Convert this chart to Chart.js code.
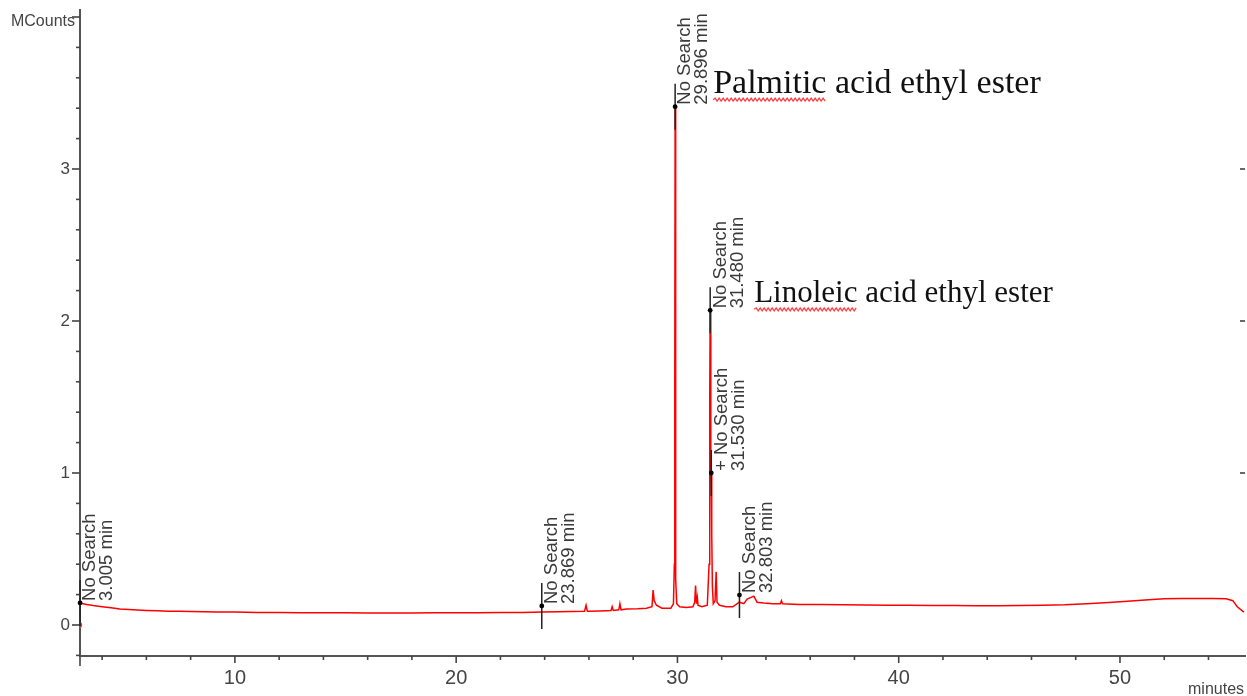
<!DOCTYPE html>
<html>
<head>
<meta charset="utf-8">
<script src="https://cdn.jsdelivr.net/npm/chart.js@4.4.1/dist/chart.umd.min.js"></script>
<style>
  html, body { margin: 0; padding: 0; background: #fff; }
  #wrap { width: 1247px; height: 696px; position: relative; }
</style>
</head>
<body>
<div id="wrap"><canvas id="chrom"></canvas></div>
<script>
// retention time (min) and signal (MCounts)
const times = [
  3.005, 3.1, 3.3, 3.6, 4.0, 4.4, 4.8, 5.2, 5.6, 6.0, 6.5, 7.0, 7.5, 8.0, 8.6, 9.2,
  10.0, 11.0, 12.0, 13.0, 14.0, 15.0, 16.0, 17.0, 18.0, 19.0, 20.0, 21.0, 22.0, 23.0,
  23.9, 24.6, 25.2, 25.8, 25.87, 25.93, 26.5, 27.0, 27.05, 27.1, 27.35, 27.4, 27.45,
  27.7, 28.2, 28.6, 28.85, 28.9, 28.95, 29.05, 29.3, 29.7, 29.82, 29.86, 29.88, 29.896,
  29.91, 29.93, 29.97, 30.1, 30.4, 30.7, 30.78, 30.82, 30.86, 30.9, 30.93, 31.1, 31.35,
  31.43, 31.46, 31.48, 31.50, 31.515, 31.53, 31.55, 31.58, 31.62, 31.7, 31.75, 31.79,
  31.9, 32.2, 32.5, 32.8, 33.0, 33.15, 33.3, 33.45, 33.6, 33.9, 34.3, 34.65, 34.7, 34.75,
  35.5, 36.5, 37.5, 38.5, 39.5, 40.5, 41.5, 42.5, 43.5, 44.5, 45.5, 46.5, 47.5, 48.5,
  49.5, 50.5, 51.3, 52.0, 52.8, 53.5, 54.2, 54.8, 55.1, 55.3, 55.6
];
const counts = [
  0.145, 0.142, 0.135, 0.128, 0.12, 0.113, 0.106, 0.102, 0.099, 0.096, 0.093, 0.091, 0.09, 0.088, 0.087, 0.086,
  0.085, 0.083, 0.082, 0.081, 0.08, 0.08, 0.079, 0.079, 0.079, 0.08, 0.08, 0.081, 0.082, 0.083,
  0.085, 0.087, 0.088, 0.09, 0.13, 0.09, 0.092, 0.095, 0.12, 0.096, 0.1, 0.14, 0.1,
  0.105, 0.107, 0.11, 0.12, 0.23, 0.16, 0.13, 0.11, 0.11, 0.14, 0.4, 1.6, 3.41,
  1.2, 0.3, 0.14, 0.12, 0.115, 0.12, 0.15, 0.26, 0.14, 0.18, 0.13, 0.12, 0.13,
  0.4, 1.5, 2.07, 1.3, 0.95, 1.0, 0.6, 0.25, 0.14, 0.16, 0.35, 0.15,
  0.13, 0.12, 0.12, 0.15, 0.14, 0.17, 0.18, 0.19, 0.15, 0.145, 0.14, 0.14, 0.16, 0.14,
  0.135, 0.135, 0.133, 0.132, 0.13, 0.13, 0.128, 0.128, 0.127, 0.127, 0.128, 0.13, 0.133, 0.14,
  0.148, 0.158, 0.166, 0.172, 0.175, 0.174, 0.175, 0.172, 0.16, 0.12, 0.085
];

// peak markers
const peakTimes = [3.005, 23.869, 29.896, 31.480, 31.530, 32.803];
const peakTops = [0.145, 0.125, 3.41, 2.07, 1.0, 0.197];
const peakTags = ["No Search", "No Search", "No Search", "No Search", "+ No Search", "No Search"];
const peakRt = ["3.005 min", "23.869 min", "29.896 min", "31.480 min", "31.530 min", "32.803 min"];

// compound names written next to two peaks
const compoundNames = ["Palmitic acid ethyl ester", "Linoleic acid ethyl ester"];
const compoundPeak = [2, 3];

const points = times.map((t, i) => ({ x: t, y: counts[i] }));

function squiggle(ctx, x0, x1, y) {
  ctx.beginPath();
  ctx.moveTo(x0, y);
  let up = true;
  for (let x = x0 + 2; x <= x1; x += 2) {
    ctx.lineTo(x, up ? y - 1.5 : y + 1.5);
    up = !up;
  }
  ctx.stroke();
}

const decor = {
  id: "decor",
  afterDraw(chart) {
    const ctx = chart.ctx;
    const xs = chart.scales.x, ys = chart.scales.y;
    const a = chart.chartArea;
    ctx.save();
    ctx.strokeStyle = "#444";
    ctx.lineWidth = 1.6;
    // x ticks
    xs.ticks.forEach(t => {
      const px = xs.getPixelForValue(t.value);
      const len = t.value % 10 === 0 ? 7 : 4;
      ctx.beginPath(); ctx.moveTo(px, a.bottom); ctx.lineTo(px, a.bottom + len); ctx.stroke();
    });
    // y ticks
    ys.ticks.forEach(t => {
      const py = ys.getPixelForValue(t.value);
      const major = Math.abs(t.value - Math.round(t.value)) < 1e-6;
      ctx.beginPath(); ctx.moveTo(a.left, py); ctx.lineTo(a.left - (major ? 8 : 4), py); ctx.stroke();
      if (major && t.value > 0 && t.value < 4) {
        ctx.beginPath(); ctx.moveTo(a.right, py); ctx.lineTo(a.right - 5, py); ctx.stroke();
      }
    });
    // y axis runs a bit past the x axis
    ctx.beginPath(); ctx.moveTo(a.left, a.bottom); ctx.lineTo(a.left, a.bottom + 10); ctx.stroke();

    ctx.fillStyle = "#444";
    ctx.font = '16px "Liberation Sans", Arial, sans-serif';
    ctx.textAlign = "right"; ctx.textBaseline = "middle";
    ctx.fillText("MCounts", a.left - 5, a.top + 12);
    ctx.textAlign = "left";
    ctx.fillText("minutes", a.right - 57, a.bottom + 34);

    // start-of-run marker
    ctx.strokeStyle = "#ff3030"; ctx.lineWidth = 1.2;
    ctx.beginPath(); ctx.arc(xs.getPixelForValue(times[0]) - 1, ys.getPixelForValue(0), 2.5, -Math.PI / 2, Math.PI / 2); ctx.stroke();

    // peak markers and rotated labels
    peakTimes.forEach((t, i) => {
      const px = xs.getPixelForValue(t);
      const py = ys.getPixelForValue(peakTops[i]);
      ctx.strokeStyle = "#222"; ctx.lineWidth = 1.5;
      ctx.beginPath(); ctx.moveTo(px, py - 23); ctx.lineTo(px, py + 23); ctx.stroke();
      ctx.fillStyle = "#000";
      ctx.beginPath(); ctx.arc(px, py, 2.4, 0, Math.PI * 2); ctx.fill();
      ctx.save();
      ctx.translate(px, py);
      ctx.rotate(-Math.PI / 2);
      ctx.fillStyle = "#3a3a3a";
      ctx.font = '18.5px "Liberation Sans", Arial, sans-serif';
      ctx.textAlign = "left"; ctx.textBaseline = "top";
      ctx.fillText(peakTags[i], 2, 1);
      ctx.fillText(peakRt[i], 2, 18);
      ctx.restore();
    });

    // compound names
    const offs = [[38, -14, 34], [44, -8, 31]];
    compoundNames.forEach((name, i) => {
      const k = compoundPeak[i];
      const px = xs.getPixelForValue(peakTimes[k]) + offs[i][0];
      const py = ys.getPixelForValue(peakTops[k]) + offs[i][1];
      ctx.font = offs[i][2] + 'px "Liberation Serif", "Times New Roman", serif';
      ctx.textAlign = "left"; ctx.textBaseline = "alphabetic";
      ctx.fillStyle = "#111";
      ctx.fillText(name, px, py);
      const w = ctx.measureText(name.split(" ")[0]).width;
      ctx.strokeStyle = "#ff4040"; ctx.lineWidth = 1.3;
      squiggle(ctx, px, px + w, py + 7);
    });
    ctx.restore();
  }
};

function noPad(s) {
  s.paddingTop = 0; s.paddingBottom = 0; s.paddingLeft = 0; s.paddingRight = 0;
}

new Chart(document.getElementById("chrom"), {
  type: "line",
  data: {
    datasets: [{
      data: points,
      borderColor: "#ff0000",
      borderWidth: 1.5,
      pointRadius: 0,
      tension: 0,
      fill: false,
    }],
  },
  options: {
    responsive: true, maintainAspectRatio: false, animation: false,
    layout: { padding: { top: 10, right: 2, left: 0, bottom: 0 } },
    plugins: { legend: { display: false }, tooltip: { enabled: false } },
    scales: {
      x: {
        type: "linear", min: 3.0, max: 55.65,
        grid: { display: false },
        border: { display: true, color: "#555", width: 2 },
        ticks: {
          stepSize: 2, includeBounds: false, autoSkip: false, maxRotation: 0, padding: 2,
          color: "#444", font: { family: "Liberation Sans, Arial, sans-serif", size: 20 },
          callback: v => (v % 10 === 0 ? String(v) : ""),
        },
        afterFit: s => { s.height = 40; noPad(s); },
      },
      y: {
        min: -0.204, max: 4.046,
        grid: { display: false },
        border: { display: true, color: "#555", width: 2 },
        ticks: {
          stepSize: 0.2, includeBounds: false, autoSkip: false, padding: 2,
          color: "#444", font: { family: "Liberation Sans, Arial, sans-serif", size: 17 },
          callback: v => (Math.abs(v - Math.round(v)) < 1e-6 && v < 3.5 ? String(Math.round(v)) : ""),
        },
        afterFit: s => { s.width = 80; noPad(s); },
      },
    },
  },
  plugins: [decor],
});
</script>
</body>
</html>
